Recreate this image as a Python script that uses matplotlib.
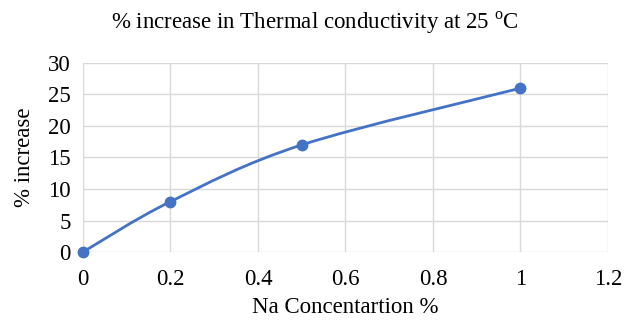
import matplotlib
matplotlib.use("Agg")
import matplotlib.pyplot as plt
from matplotlib.path import Path
from matplotlib.patches import PathPatch
import numpy as np

plt.rcParams['font.family'] = ['Liberation Serif', 'DejaVu Serif']
plt.rcParams['mathtext.fontset'] = 'custom'
plt.rcParams['mathtext.rm'] = 'Liberation Serif'

na_conc = [0, 0.2, 0.5, 1]
pct_increase = [0, 8, 17, 26]
x_ticks = [0, 0.2, 0.4, 0.6, 0.8, 1, 1.2]
x_tick_labels = ['0', '0.2', '0.4', '0.6', '0.8', '1', '1.2']
y_ticks = [0, 5, 10, 15, 20, 25, 30]

color = '#4472C4'

fig = plt.figure(figsize=(6.3, 3.23), dpi=100)
ax = fig.add_axes([0.1317, 0.2198, 0.8333, 0.5852])

# Smooth (Catmull-Rom style) curve through the data points
pts = np.column_stack([na_conc, pct_increase]).astype(float)
verts = [tuple(pts[0])]
codes = [Path.MOVETO]
n = len(pts)
for i in range(n - 1):
    p0 = pts[i - 1] if i > 0 else pts[i]
    p1 = pts[i]
    p2 = pts[i + 1]
    p3 = pts[i + 2] if i + 2 < n else pts[i + 1]
    c1 = p1 + (p2 - p0) / 6.0
    c2 = p2 - (p3 - p1) / 6.0
    verts += [tuple(c1), tuple(c2), tuple(p2)]
    codes += [Path.CURVE4] * 3
ax.add_patch(PathPatch(Path(verts, codes), facecolor='none', edgecolor=color,
                       lw=2.0, zorder=3, capstyle='round'))
ax.plot(na_conc, pct_increase, 'o', color=color, markersize=7.5, zorder=4, clip_on=False)

ax.set_xlim(0, 1.2)
ax.set_ylim(0, 30)
ax.set_xticks(x_ticks)
ax.set_xticklabels(x_tick_labels)
ax.set_yticks(y_ticks)
ax.grid(True, color='#d9d9d9', lw=1.0)
ax.set_axisbelow(True)
for s in ax.spines.values():
    s.set_visible(False)
ax.tick_params(length=0, labelsize=16.5)
ax.tick_params(axis='y', pad=9)
ax.tick_params(axis='x', pad=12)

ax.set_xlabel('Na Concentartion %', fontsize=16.5, labelpad=5)
ax.set_ylabel('% increase', fontsize=16.5, labelpad=9)
fig.text(0.5, 0.93, r'% increase in Thermal conductivity at 25 $^{\mathrm{o}}$C',
         ha='center', va='center', fontsize=16.5)

fig.savefig('out.png', dpi=100)
